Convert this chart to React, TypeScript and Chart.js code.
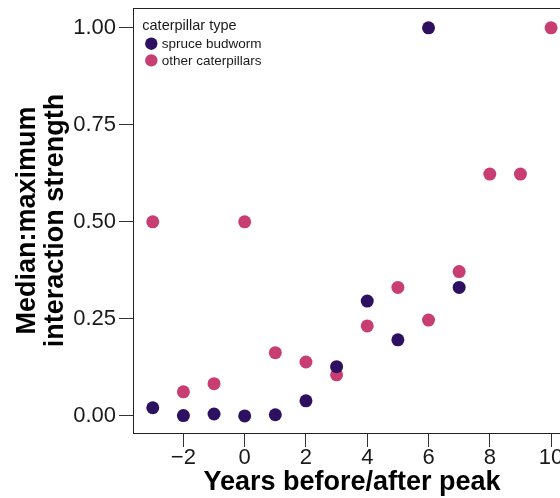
import React, { useEffect, useRef } from 'react';
import { Chart, registerables } from 'chart.js';

Chart.register(...registerables);

// ---- data ----
const spruceYears = [-3, -2, -1, 0, 1, 2, 3, 4, 5, 6, 7];
const spruceValues = [0.021, 0.001, 0.005, 0.0, 0.003, 0.039, 0.127, 0.296, 0.196, 1.0, 0.331];
const otherYears = [-3, -2, -1, 0, 1, 2, 3, 4, 5, 6, 7, 8, 9, 10];
const otherValues = [0.5, 0.062, 0.083, 0.5, 0.163, 0.139, 0.106, 0.232, 0.331, 0.247, 0.372, 0.623, 0.623, 1.0];
const xTicks = [-2, 0, 2, 4, 6, 8, 10];
const yTicks = [0, 0.25, 0.5, 0.75, 1.0];
const seriesLabels = ['spruce budworm', 'other caterpillars'];
const seriesColors = ['#2d1160', '#c83e73'];
const legendTitle = 'caterpillar type';
const xTitle = 'Years before/after peak';
const yTitleLines = ['Median:maximum', 'interaction strength'];

const FONT = "'Liberation Sans', Arial, Helvetica, sans-serif";

const decorPlugin = {
  id: 'decor',
  afterDraw(chart: any) {
    const ctx = chart.ctx;
    const area = chart.chartArea;
    ctx.save();
    // panel top/right border
    ctx.strokeStyle = '#222';
    ctx.lineWidth = 1;
    ctx.beginPath();
    ctx.moveTo(area.left, area.top + 0.5);
    ctx.lineTo(area.right + 0.5, area.top + 0.5);
    ctx.lineTo(area.right + 0.5, area.bottom);
    ctx.stroke();

    // legend
    ctx.fillStyle = '#1a1a1a';
    ctx.textAlign = 'left';
    ctx.textBaseline = 'alphabetic';
    ctx.font = `14.5px ${FONT}`;
    ctx.fillText(legendTitle, 142.3, 29.5);
    ctx.font = `13.5px ${FONT}`;
    chart.data.datasets.forEach((ds: any, i: number) => {
      const cy = 43.7 + i * 16.7;
      ctx.fillStyle = ds.backgroundColor;
      ctx.beginPath();
      ctx.arc(151.3, cy, 6.2, 0, Math.PI * 2);
      ctx.fill();
      ctx.fillStyle = '#1a1a1a';
      ctx.fillText(ds.label, 161.8, cy + 4.3);
    });

    // axis titles
    ctx.fillStyle = '#000';
    ctx.font = `bold 27px ${FONT}`;
    ctx.textAlign = 'center';
    ctx.fillText(xTitle, (area.left + area.right) / 2, 490);
    const cyMid = (area.top + area.bottom) / 2;
    const baseX = [35, 62.5];
    yTitleLines.forEach((line, i) => {
      ctx.save();
      ctx.translate(baseX[i], cyMid);
      ctx.rotate(-Math.PI / 2);
      ctx.fillText(line, 0, 0);
      ctx.restore();
    });
    ctx.restore();
  },
};

export default function App() {
  const ref = useRef<HTMLCanvasElement>(null);
  useEffect(() => {
    const chart = new Chart(ref.current!, {
      type: 'scatter',
      data: {
        datasets: [
          {
            label: seriesLabels[0],
            data: spruceYears.map((x, i) => ({ x, y: spruceValues[i] })),
            backgroundColor: seriesColors[0],
            borderWidth: 0,
            pointRadius: 6.5,
            pointHoverRadius: 6.5,
          },
          {
            label: seriesLabels[1],
            data: otherYears.map((x, i) => ({ x, y: otherValues[i] })),
            backgroundColor: seriesColors[1],
            borderWidth: 0,
            pointRadius: 6.5,
            pointHoverRadius: 6.5,
          },
        ],
      },
      options: {
        animation: false,
        responsive: false,
        devicePixelRatio: 1,
        events: [],
        layout: { padding: { top: 8, left: 0, right: 29, bottom: 0 } },
        plugins: { legend: { display: false }, tooltip: { enabled: false } },
        scales: {
          x: {
            type: 'linear',
            min: -3.645,
            max: 10.65,
            afterBuildTicks: (s: any) => {
              s.ticks = xTicks.map((v) => ({ value: v }));
            },
            afterFit: (s: any) => {
              s.height = 65;
              s.paddingLeft = 0;
              s.paddingRight = 0;
            },
            grid: { drawOnChartArea: false, drawTicks: true, tickLength: 14, tickColor: '#333', tickWidth: 1 },
            border: { display: true, color: '#222', width: 1 },
            ticks: {
              padding: 0,
              color: '#1a1a1a',
              font: { family: FONT, size: 22, lineHeight: 1 },
              maxRotation: 0,
              autoSkip: false,
              callback: (v: any) => (Number(v) < 0 ? '\u2212' + Math.abs(Number(v)) : String(v)),
            },
          },
          y: {
            type: 'linear',
            min: -0.044,
            max: 1.051,
            afterBuildTicks: (s: any) => {
              s.ticks = yTicks.map((v) => ({ value: v }));
            },
            afterFit: (s: any) => {
              s.width = 133;
              s.paddingTop = 0;
              s.paddingBottom = 0;
            },
            grid: { drawOnChartArea: false, drawTicks: true, tickLength: 14, tickColor: '#333', tickWidth: 1 },
            border: { display: true, color: '#222', width: 1 },
            ticks: {
              padding: 3,
              color: '#1a1a1a',
              font: { family: FONT, size: 22 },
              autoSkip: false,
              callback: (v: any) => Number(v).toFixed(2),
            },
          },
        },
      },
      plugins: [decorPlugin],
    } as any);
    return () => chart.destroy();
  }, []);
  return (
    <div
      style={{
        position: 'fixed',
        left: 0,
        top: 0,
        width: 560,
        height: 498,
        overflow: 'hidden',
        background: '#fff',
      }}
    >
      <canvas ref={ref} width={600} height={498} style={{ display: 'block', width: 600, height: 498 }} />
    </div>
  );
}
